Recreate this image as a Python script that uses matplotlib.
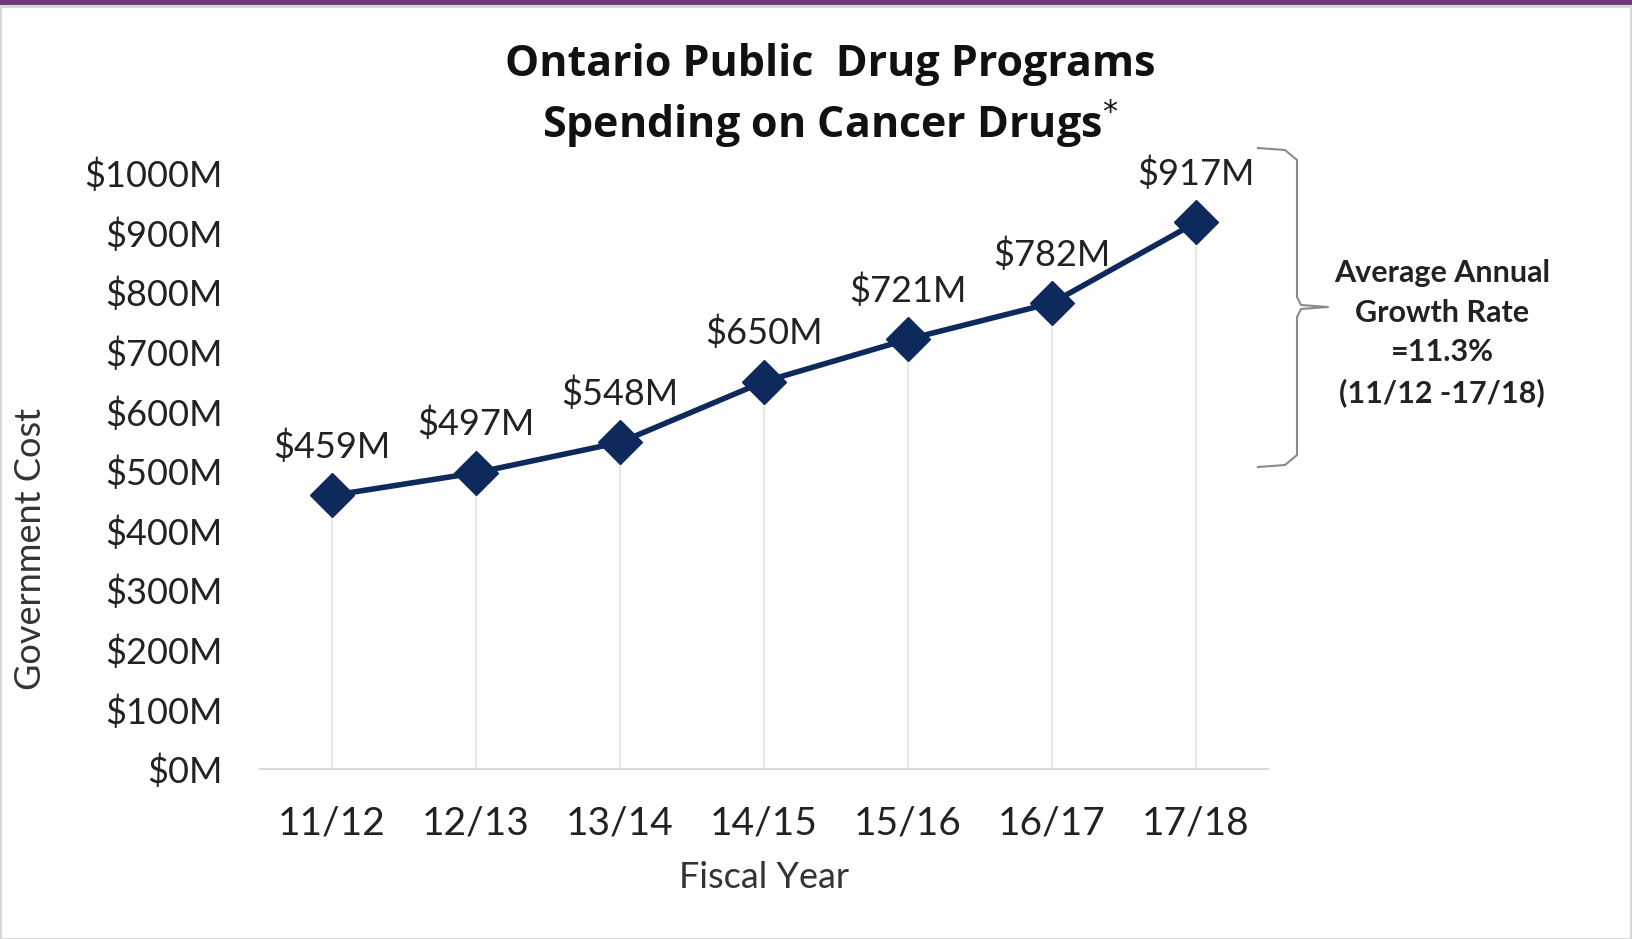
import matplotlib.pyplot as plt
from matplotlib.patches import Rectangle

plt.rcParams['font.family'] = ['Lato', 'DejaVu Sans']

years = ["11/12", "12/13", "13/14", "14/15", "15/16", "16/17", "17/18"]
cost = [459, 497, 548, 650, 721, 782, 917]
y_ticks = [0, 100, 200, 300, 400, 500, 600, 700, 800, 900, 1000]
growth_note = "Average Annual\nGrowth Rate\n=11.3%\n(11/12 -17/18)"

W, H = 1633, 939
fig = plt.figure(figsize=(W / 100, H / 100), dpi=100)
fig.patch.set_facecolor("white")

# purple strip along the top and thin grey frame
fig.patches.append(Rectangle((0, 1 - 6 / H), 1, 6 / H, transform=fig.transFigure,
                             color="#6c3a7b", zorder=0))
fig.patches.append(Rectangle((1.5 / W, 0), 1 - 3 / W, 1 - 6 / H, transform=fig.transFigure,
                             fill=False, edgecolor="#d6d6d6", lw=1.5, zorder=0))

ax = fig.add_axes([260 / W, (H - 769) / H, (1268 - 260) / W, (769 - 173) / H])
x = list(range(len(years)))

# drop lines from each point to the axis
ax.vlines(x, 0, cost, color="#e3e3e3", lw=1.2, zorder=1)
ax.plot(x, cost, color="#0e2a5c", lw=4, marker="D", ms=22,
        markerfacecolor="#0e2a5c", markeredgecolor="#0e2a5c", zorder=3)

for xi, v in zip(x, cost):
    ax.annotate(f"${v}M", (xi, v), xytext=(0, 35), textcoords="offset points",
                ha="center", va="center", fontsize=26, color="#222222")

ax.set_xlim(-0.5, 6.5)
ax.set_ylim(0, 1000)
ax.set_xticks(x)
ax.set_xticklabels(years, fontsize=28)
ax.set_yticks(y_ticks)
ax.set_yticklabels([f"${t}M" for t in y_ticks], fontsize=26)
ax.tick_params(length=0, colors="#222222")
ax.tick_params(axis="y", pad=27)
ax.tick_params(axis="x", pad=26)

for s in ["top", "right", "left"]:
    ax.spines[s].set_visible(False)
ax.spines["bottom"].set_color("#d9d9d9")
ax.spines["bottom"].set_linewidth(1.5)

fig.text(764 / W, 1 - 878 / H, "Fiscal Year", ha="center", va="center",
         fontsize=26, color="#333333")
fig.text(31 / W, 1 - 549 / H, "Government Cost", ha="center", va="center",
         rotation=90, fontsize=26, color="#333333")

title_font = ['Open Sans', 'DejaVu Sans']
fig.text(830 / W, 1 - 64 / H, "Ontario Public  Drug Programs", ha="center", va="center",
         fontsize=31, fontweight="bold", color="#111111", family=title_font)
fig.text(830 / W, 1 - 124 / H, "Spending on Cancer Drugs$^{*}$", ha="center", va="center",
         fontsize=31, fontweight="bold", color="#111111", family=title_font)

# curly bracket beside the series
bx0, bx1, tip = 1258, 1297, 1328
top, mid, bot = 148, 307, 467
r = 12
xs = [bx0, bx1 - r, bx1, bx1, bx1 + 4, tip, bx1 + 4, bx1, bx1, bx1 - r, bx0]
ys = [top, top + 2, top + r, mid - 10, mid - 2, mid, mid + 2, mid + 10, bot - r, bot - 2, bot]
fig.lines.append(plt.Line2D([v / W for v in xs], [1 - v / H for v in ys],
                            transform=fig.transFigure, color="#8a8a8a", lw=1.5))

fig.text(1442 / W, 1 - 333 / H, growth_note, ha="center", va="center",
         fontsize=22, fontweight="bold", color="#222222", linespacing=1.5)

fig.savefig("out.png", dpi=100, facecolor="white")
